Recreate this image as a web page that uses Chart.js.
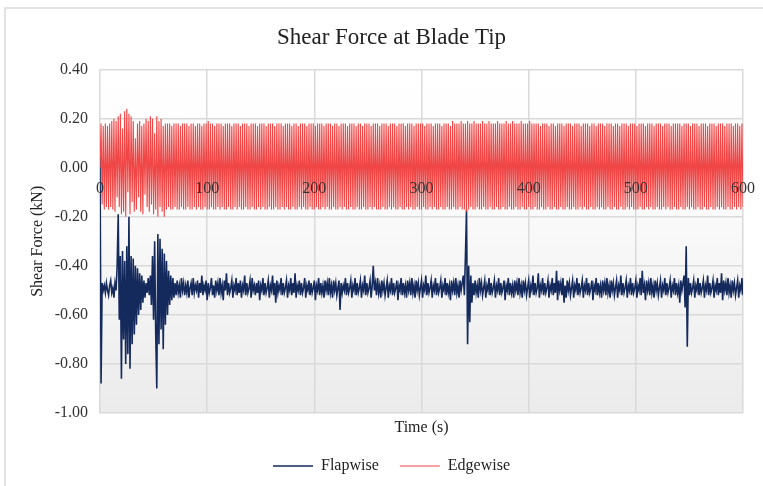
<!DOCTYPE html>
<html lang="en">
<head>
    <meta charset="UTF-8">
    <title>Shear Force at Blade Tip</title>
    <script src="https://cdn.jsdelivr.net/npm/chart.js"></script>
    <style>
        body {
            margin: 0;
            padding: 0;
            background-color: #fff;
        }
        .chart-box {
            width: 763px;
            height: 486px;
        }
    </style>
</head>
<body>
    <div class="chart-box">
        <canvas id="chart"></canvas>
    </div>

    <script>
        // sampled time series, one value per second from 0 to 600 s
        // values are in hundredths of a kN
        const sampleInterval = 1;

        const flapwiseCentiKN = [
            5,-88,-47,-50,-48,-51,-47,-50,-52,-48,-46,-51,-49,-53,-47,-50,
            -40,-19,-62,-36,-86,-34,-70,-38,-80,-32,-76,-20,-82,-36,-72,-37,-68,-40,-64,-41,-60,-43,-58,-44,-55,-46,-53,
            -47,-51,-45,-52,
            -44,-56,-36,-62,-30,-68,-90,-27,-72,-29,-66,-33,-74,-35,-64,-38,-60,-42,-56,-44,-54,-45,-53,
            -47,-52,-46,-51,-48,-53,-45,-50,-47,-52,-48,-51,-46,-53,-49,-47,-52,-45,-51,-48,
            -50,-46,-53,-47,-51,-44,-52,-48,-50,-46,-54,-47,-51,-49,-45,-52,-48,-53,-46,-50,
            -47,-52,-45,-51,-48,-54,-46,-50,-43,-52,-47,-51,-49,-46,-53,-48,-50,-45,-52,-47,
            -51,-46,-53,-48,-50,-44,-52,-47,-51,-49,-46,-53,-45,-50,-48,-52,-47,-51,-46,-54,
            -48,-50,-45,-52,-47,-51,-49,-46,-53,-48,-50,-44,-52,-47,-55,-46,-51,-48,-50,-45,
            -52,-47,-51,-49,-46,-53,-48,-50,-45,-52,-47,-51,-43,-53,-48,-50,-46,-52,-47,-51,
            -49,-45,-53,-48,-50,-46,-52,-47,-51,-49,-46,-54,-48,-50,-45,-52,-47,-51,-48,-53,
            -46,-50,-47,-52,-45,-51,-48,-53,-46,-50,-47,-52,-49,-46,-58,-47,-51,-48,-50,-45,
            -52,-47,-51,-49,-46,-53,-48,-50,-45,-52,-47,-51,-49,-46,-53,-48,-50,-44,-52,-47,
            -51,-49,-46,-53,-48,-40,-50,-47,-52,-45,-51,-48,-53,-46,-50,-47,-52,-49,-46,-53,
            -48,-50,-45,-52,-47,-51,-49,-46,-54,-48,-50,-45,-52,-47,-51,-48,-53,-46,-50,-47,
            -52,-45,-51,-48,-53,-46,-50,-47,-52,-49,-46,-53,-48,-50,-44,-52,-47,-51,-49,-46,
            -53,-48,-50,-45,-52,-47,-51,-49,-46,-53,-48,-50,-45,-52,-47,-51,-48,-54,-46,-50,
            -47,-52,-45,-51,-48,-53,-46,-50,-47,-44,-52,-36,-17,-72,-40,-63,-44,-55,-47,-52,
            -46,-51,-48,-53,-45,-50,-47,-52,-49,-46,-53,-48,-50,-45,-52,-47,-51,-49,-46,-53,
            -48,-50,-45,-52,-47,-51,-49,-46,-54,-48,-50,-45,-52,-47,-51,-48,-53,-46,-50,-47,
            -52,-45,-51,-48,-53,-46,-50,-47,-52,-49,-46,-53,-48,-50,-44,-52,-47,-51,-49,-43,
            -53,-48,-50,-45,-52,-47,-51,-49,-46,-53,-48,-50,-45,-52,-47,-51,-42,-54,-46,-50,
            -47,-52,-45,-55,-48,-53,-46,-50,-47,-52,-49,-46,-53,-48,-50,-45,-52,-47,-51,-49,
            -46,-53,-48,-50,-45,-52,-47,-51,-49,-46,-54,-48,-50,-45,-52,-47,-51,-48,-53,-46,
            -50,-47,-52,-45,-51,-48,-53,-46,-50,-47,-52,-49,-46,-53,-48,-50,-44,-52,-47,-51,
            -49,-46,-53,-48,-50,-45,-52,-47,-51,-49,-46,-53,-48,-50,-45,-52,-42,-51,-48,-54,
            -46,-50,-47,-52,-45,-51,-48,-53,-46,-50,-47,-52,-49,-46,-53,-48,-50,-45,-52,-47,
            -51,-49,-46,-53,-48,-50,-45,-52,-47,-51,-48,-55,-46,-50,-47,-44,-57,-32,-73,-45,
            -52,-47,-51,-49,-46,-53,-48,-50,-45,-52,-47,-51,-49,-46,-53,-48,-50,-44,-52,-47,
            -51,-49,-46,-53,-48,-50,-45,-52,-47,-51,-43,-54,-46,-50,-47,-52,-45,-51,-48,-53,
            -46,-50,-47,-52,-49,-46,-53,-48,-50,-45,-52
        ];

        const edgewiseCentiKN = [
            0,18,-15,17,-17,18,-16,17,-17,18,-16,19,-17,20,-18,19,-12,21,-16,22,
            -19,16,-18,23,-20,24,-10,22,-19,21,-14,19,-18,12,-17,18,-12,19,-18,17,
            -19,18,-11,20,-16,19,-18,21,-15,20,-19,14,-17,21,-20,19,-16,20,-18,17,
            -20,18,-17,18,-16,18,-17,17,-17,18,-16,18,-17,18,-17,17,-16,18,-17,18,
            -17,18,-16,17,-17,18,-17,18,-16,17,-17,18,-16,18,-17,17,-17,18,-16,18,
            -17,19,-17,18,-16,18,-17,17,-17,18,-16,18,-17,18,-16,17,-17,18,-17,18,
            -16,18,-17,17,-17,18,-16,18,-17,18,-16,17,-17,18,-17,18,-16,18,-17,17,
            -17,18,-16,18,-17,18,-17,17,-16,18,-17,18,-16,18,-17,17,-17,18,-16,18,
            -17,18,-17,17,-16,18,-17,18,-17,18,-16,17,-17,18,-16,18,-17,18,-17,17,
            -16,18,-17,18,-17,17,-16,18,-17,18,-16,18,-17,17,-17,18,-16,18,-17,18,
            -17,17,-16,18,-17,18,-17,18,-16,17,-17,18,-16,18,-17,18,-17,17,-16,18,
            -17,18,-17,17,-16,18,-17,18,-16,18,-17,17,-17,18,-16,18,-17,18,-17,17,
            -16,18,-17,18,-17,17,-16,18,-17,18,-17,18,-16,17,-17,18,-16,18,-17,18,
            -17,17,-17,18,-16,18,-17,18,-17,17,-16,18,-17,18,-16,18,-17,17,-17,18,
            -16,18,-17,18,-17,17,-16,18,-17,18,-16,18,-17,17,-17,18,-16,18,-17,18,
            -17,18,-16,17,-17,18,-17,18,-16,18,-17,17,-16,18,-17,18,-17,18,-16,17,
            -17,18,-17,18,-16,18,-17,17,-17,19,-16,18,-17,18,-17,18,-16,19,-17,18,
            -17,18,-18,19,-17,18,-16,18,-17,19,-17,18,-16,18,-17,18,-17,19,-16,18,
            -17,18,-17,19,-16,18,-17,18,-17,18,-16,19,-17,18,-17,18,-16,18,-17,19,
            -17,18,-16,18,-17,19,-17,18,-16,18,-17,18,-17,19,-16,18,-17,18,-17,18,
            -16,19,-17,18,-17,18,-16,18,-17,18,-17,17,-16,18,-17,18,-17,18,-16,17,
            -17,18,-17,18,-16,17,-17,18,-17,18,-16,18,-17,17,-17,18,-16,18,-17,18,
            -17,17,-16,18,-17,18,-17,18,-16,17,-17,18,-16,18,-17,18,-17,17,-16,18,
            -17,18,-17,17,-16,18,-17,18,-16,18,-17,17,-17,18,-16,18,-17,18,-17,17,
            -16,18,-17,18,-17,17,-16,18,-17,18,-17,18,-16,17,-17,18,-16,18,-17,18,
            -17,17,-17,18,-16,18,-17,18,-17,17,-16,18,-17,18,-16,18,-17,17,-17,18,
            -16,18,-17,18,-17,17,-16,18,-17,18,-16,18,-17,17,-17,18,-16,18,-17,18,
            -17,18,-16,17,-17,18,-17,18,-16,18,-17,17,-16,18,-17,18,-17,18,-16,17,
            -17,18,-17,18,-16,18,-17,17,-17,18,-16,18,-17,18,-17,17,-16,18,-17,18,
            -16,18,-17,17,-17,18,-16,18,-17,18,-17,17,-16,18,-17,18,-16,17,-17,18,
            -16
        ];

        const xTickValues = [0, 100, 200, 300, 400, 500, 600];
        const yTickValues = [-1.0, -0.8, -0.6, -0.4, -0.2, 0.0, 0.2, 0.4];

        const toPoints = arr => arr.map((v, i) => ({ x: i * sampleInterval, y: v / 100 }));
        const setTicks = values => scale => { scale.ticks = values.map(v => ({ value: v })); };

        const serif = "'Liberation Serif', 'Times New Roman', serif";
        Chart.defaults.font.family = serif;
        Chart.defaults.color = '#333';

        // frame around the whole chart + shaded plot area
        const backdrop = {
            id: 'backdrop',
            beforeDraw(chart) {
                const { ctx, chartArea: a } = chart;
                ctx.save();
                ctx.strokeStyle = '#d9d9d9';
                ctx.lineWidth = 1.5;
                ctx.strokeRect(5, 8, 800, 600);
                const g = ctx.createLinearGradient(0, a.top, 0, a.bottom);
                g.addColorStop(0, '#ffffff');
                g.addColorStop(0.3, '#fdfdfd');
                g.addColorStop(1, '#ebebeb');
                ctx.fillStyle = g;
                ctx.fillRect(a.left, a.top, a.right - a.left, a.bottom - a.top);
                ctx.restore();
            }
        };

        new Chart(document.getElementById('chart'), {
            type: 'line',
            data: {
                datasets: [{
                    label: 'Flapwise',
                    data: toPoints(flapwiseCentiKN),
                    borderColor: '#14295c',
                    backgroundColor: '#14295c',
                    borderWidth: 1.6,
                    order: 1
                }, {
                    label: 'Edgewise',
                    data: toPoints(edgewiseCentiKN),
                    borderColor: '#f04646',
                    backgroundColor: '#f04646',
                    borderWidth: 1.1,
                    order: 0
                }]
            },
            options: {
                responsive: true,
                maintainAspectRatio: false,
                animation: false,
                devicePixelRatio: 1,
                elements: {
                    point: { radius: 0, hitRadius: 0 },
                    line: { tension: 0 }
                },
                layout: { padding: { left: 40, right: 20, top: 0, bottom: 2 } },
                scales: {
                    // tick labels sit on the zero line, drawn above the data
                    x: {
                        type: 'linear',
                        position: { y: 0 },
                        min: 0,
                        max: 600,
                        afterBuildTicks: setTicks(xTickValues),
                        grid: { display: false },
                        border: { display: false },
                        ticks: {
                            z: 1,
                            padding: 3,
                            maxRotation: 0,
                            font: { size: 16 },
                            color: '#333'
                        }
                    },
                    // bottom axis: vertical gridlines + axis title
                    x2: {
                        type: 'linear',
                        position: 'bottom',
                        min: 0,
                        max: 600,
                        afterBuildTicks: setTicks(xTickValues),
                        afterFit: s => { s.height = 24; },
                        grid: { color: '#d9d9d9', lineWidth: 1.5, drawTicks: false },
                        border: { display: false },
                        ticks: { display: false },
                        title: {
                            display: true,
                            text: 'Time (s)',
                            font: { size: 16 },
                            color: '#222',
                            padding: { top: 2, bottom: 0 }
                        }
                    },
                    y: {
                        min: -1.0,
                        max: 0.4,
                        afterBuildTicks: setTicks(yTickValues),
                        afterFit: s => { s.width = 60; },
                        grid: { color: '#d9d9d9', lineWidth: 1.5, drawTicks: false },
                        border: { display: false },
                        ticks: {
                            padding: 12,
                            font: { size: 16 },
                            color: '#333',
                            callback: v => v.toFixed(2)
                        },
                        title: {
                            display: true,
                            text: 'Shear Force (kN)',
                            font: { size: 16 },
                            color: '#222',
                            padding: { top: -11.6, bottom: 0 }
                        }
                    }
                },
                plugins: {
                    title: {
                        display: true,
                        text: 'Shear Force at Blade Tip',
                        font: { size: 23, weight: 'normal' },
                        color: '#222',
                        padding: { top: 24, bottom: 18 }
                    },
                    legend: {
                        position: 'bottom',
                        labels: {
                            usePointStyle: true,
                            pointStyle: 'line',
                            pointStyleWidth: 40,
                            padding: 21,
                            font: { size: 16 },
                            color: '#222',
                            sort: (a, b) => a.datasetIndex - b.datasetIndex
                        }
                    },
                    tooltip: { enabled: false }
                }
            },
            plugins: [backdrop]
        });
    </script>
</body>
</html>
